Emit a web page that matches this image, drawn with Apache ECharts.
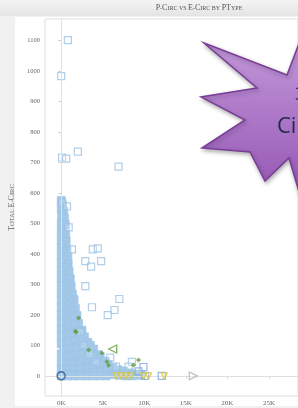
<!DOCTYPE html>
<html>
<head>
<meta charset="utf-8">
<script src="https://cdn.jsdelivr.net/npm/echarts@6/dist/echarts.min.js"></script>
<style>
  html, body { margin: 0; padding: 0; background: #f1f1f1; }
  #main { width: 298px; height: 408px; }
</style>
</head>
<body>
<div id="main"></div>
<script>
// tick labels
var xTicks = [0, 5000, 10000, 15000, 20000, 25000];
var yTicks = [0, 100, 200, 300, 400, 500, 600, 700, 800, 900, 1000, 1100];

// dense cloud of light blue points (P-Circ, E-Circ)
var denseCloud = [
  [0,575],[150,560],[0,548],[300,540],[50,525],[400,515],[0,500],[500,495],[200,480],[0,472],
  [550,465],[300,455],[0,445],[600,440],[250,430],[0,420],[700,412],[350,405],[0,395],[800,390],
  [400,380],[0,370],[850,365],[450,355],[0,345],[950,342],[500,330],[0,320],[1100,318],[600,305],
  [0,295],[1200,292],[700,282],[0,270],[1350,268],[650,258],[0,247],[1550,250],[1100,240],[500,235],
  [0,225],[1700,222],[1100,215],[500,208],[0,200],[1900,198],[1300,190],[700,182],[0,175],[2100,172],
  [1400,165],[700,158],[0,152],[2500,150],[1900,145],[1200,140],[500,133],[0,128],[2800,128],[2100,120],
  [1400,115],[700,110],[0,105],[3200,110],[3500,100],[2600,98],[1800,92],[1000,90],[300,85],[0,72],
  [3900,88],[3100,80],[2300,72],[1500,68],[700,62],[4400,70],[4700,62],[3800,58],[3000,52],[2200,48],
  [1400,44],[600,40],[0,45],[5300,48],[5600,38],[4600,34],[3800,30],[3000,28],[2200,24],[1400,20],
  [600,18],[0,22],[6200,28],[6800,20],[7500,16],[5400,14],[4600,12],[3800,10],[3000,8],[2200,6],
  [1400,4],[600,3],[0,0],[8200,10],[9000,6],[9600,2],[8600,0],[7800,0],[7000,2],[6200,4],
  [5400,0],[4600,0],[3800,0],[3000,0],[2200,0],[1400,0],[800,0]
];

// scattered light blue points
var outliers = [
  [800,1101],[0,983],[100,716],[600,712],[2000,735],[6900,686],[100,569],[700,556],[900,487],
  [1300,415],[3800,415],[4400,418],[2900,376],[3600,358],[4800,376],[2900,294],[7000,252],
  [3700,225],[6400,216],[5600,199],[2300,144],[2700,100],[3400,70],[4200,45],[8500,46],[8100,30],
  [5900,60],[6600,30]
];
var bluePoints = [[9900,29],[10100,0],[12100,0],[9300,15]];
var yellowPoints = [[6600,0],[7200,0],[7800,0],[8400,0],[9900,0],[10500,0],[12400,0]];
var greenPoints = [[2100,190],[1800,144],[1700,146],[3300,85],[4900,75],[5500,46],[5700,35],[8700,36],[9300,52]];
var greenTriangle = [[6200,88]];
var grayTriangle = [[15900,0]];
var zeroCircle = [[0,0]];

var chart = echarts.init(document.getElementById('main'));

var serif = "'Liberation Serif', 'DejaVu Serif', serif";

var option = {
  animation: false,
  backgroundColor: '#f1f1f1',
  graphic: [
    { type: 'rect', z: -10, shape: { x: 15, y: 17, width: 290, height: 389 }, style: { fill: '#ffffff' } },
    { type: 'rect', z: -10, shape: { x: 0, y: 0, width: 298, height: 16 },
      style: { fill: { type: 'linear', x: 0, y: 0, x2: 0, y2: 1,
        colorStops: [{ offset: 0, color: '#f4f4f4' }, { offset: 1, color: '#e4e4e4' }] } } },
    { type: 'text', z: 10, x: 199, y: 8,
      style: {
        text: '{b|P}{s|-}{b|C}{s|IRC VS }{b|E}{s|-}{b|C}{s|IRC BY }{b|PT}{s|YPE}',
        align: 'center', verticalAlign: 'middle',
        rich: {
          b: { fontFamily: serif, fontSize: 8, fill: '#555' },
          s: { fontFamily: serif, fontSize: 6, fill: '#555' }
        }
      } },
    { type: 'polygon', z: 100,
      shape: { points: [[204,43],[287,75],[306,25],[325,75],[360,80],[335,120],[360,170],[320,165],
                        [300,195],[289,158],[265,181],[250,152],[202,148],[245,120],[201,97],[257,88]] },
      style: {
        fill: { type: 'linear', x: 0, y: 0, x2: 0, y2: 1,
          colorStops: [{ offset: 0, color: '#c89fde' }, { offset: 1, color: '#9556b4' }] },
        stroke: '#7a3d98', lineWidth: 1.5,
        shadowBlur: 4, shadowColor: 'rgba(0,0,0,0.3)', shadowOffsetX: 1, shadowOffsetY: 2
      } },
    { type: 'text', z: 101, x: 295, y: 95,
      style: { text: '3', fontFamily: "'Open Sans', sans-serif", fontSize: 18, fill: '#1e2a4a', verticalAlign: 'middle' } },
    { type: 'text', z: 101, x: 277, y: 127,
      style: { text: 'Circ', fontFamily: "'Open Sans', sans-serif", fontSize: 22, fill: '#1e2a4a', verticalAlign: 'middle' } }
  ],
  grid: {
    left: 45, right: -12, top: 19, bottom: 12,
    show: true, borderColor: '#dedede', borderWidth: 1, backgroundColor: 'transparent'
  },
  xAxis: {
    type: 'value',
    min: -1950, max: 28500,
    splitLine: { show: false },
    axisLine: { show: false },
    axisTick: { show: true, customValues: xTicks, length: 3, lineStyle: { color: '#d8d8d8' } },
    axisLabel: {
      customValues: xTicks, margin: 4,
      fontFamily: serif, fontSize: 7, color: '#666',
      formatter: function (v) { return (v / 1000) + 'K'; }
    }
  },
  yAxis: {
    type: 'value',
    min: -66, max: 1170,
    name: '{b|T}{s|OTAL }{b|E}{s|-}{b|C}{s|IRC}',
    nameLocation: 'middle', nameGap: 24, nameRotate: 90,
    nameTextStyle: {
      rich: {
        b: { fontFamily: serif, fontSize: 8, color: '#666' },
        s: { fontFamily: serif, fontSize: 6.5, color: '#666' }
      }
    },
    splitLine: { show: false },
    axisLine: { show: false },
    axisTick: { show: true, customValues: yTicks, length: 3, lineStyle: { color: '#cfcfcf' } },
    axisLabel: {
      customValues: yTicks, margin: 5, fontFamily: serif, fontSize: 6.5, color: '#666',
      formatter: function (v) { return String(v); }
    }
  },
  series: [
    {
      name: 'dense', type: 'scatter', data: denseCloud,
      symbol: 'rect', symbolSize: 8,
      itemStyle: { color: '#a3c8e8', borderColor: '#9cc3e5', borderWidth: 0.6, opacity: 1 },
      markLine: {
        silent: true, symbol: 'none', label: { show: false },
        lineStyle: { color: '#e0e0e0', width: 1, type: 'solid' },
        data: [{ xAxis: 0 }, { yAxis: 0 }]
      },
      z: 3
    },
    {
      name: 'outliers', type: 'scatter', data: outliers,
      symbol: 'rect', symbolSize: 7,
      itemStyle: { color: 'rgba(255,255,255,0.2)', borderColor: '#9cc2e4', borderWidth: 1.2 },
      z: 4
    },
    {
      name: 'blue', type: 'scatter', data: bluePoints,
      symbol: 'rect', symbolSize: 7,
      itemStyle: { color: 'rgba(255,255,255,0.2)', borderColor: '#7aa8d8', borderWidth: 1.2 },
      z: 5
    },
    {
      name: 'yellow', type: 'scatter', data: yellowPoints,
      symbol: 'triangle', symbolSize: 6, symbolRotate: 180,
      itemStyle: { color: 'rgba(255,255,255,0.3)', borderColor: '#d6c43c', borderWidth: 1.3 },
      z: 6
    },
    {
      name: 'green', type: 'scatter', data: greenPoints,
      symbol: 'diamond', symbolSize: 5,
      itemStyle: { color: '#5f9e3e' },
      z: 6
    },
    {
      name: 'greenTri', type: 'scatter', data: greenTriangle,
      symbol: 'triangle', symbolSize: 8, symbolRotate: 90,
      itemStyle: { color: 'rgba(255,255,255,0.3)', borderColor: '#5f9e3e', borderWidth: 1.3 },
      z: 6
    },
    {
      name: 'grayTri', type: 'scatter', data: grayTriangle,
      symbol: 'triangle', symbolSize: 8, symbolRotate: -90,
      itemStyle: { color: 'rgba(255,255,255,0.3)', borderColor: '#b0b0b0', borderWidth: 1.2 },
      z: 6
    },
    {
      name: 'zero', type: 'scatter', data: zeroCircle,
      symbol: 'circle', symbolSize: 8,
      itemStyle: { color: 'rgba(255,255,255,0)', borderColor: '#2f5f94', borderWidth: 1.6 },
      z: 7
    }
  ]
};

chart.setOption(option);
</script>
</body>
</html>
